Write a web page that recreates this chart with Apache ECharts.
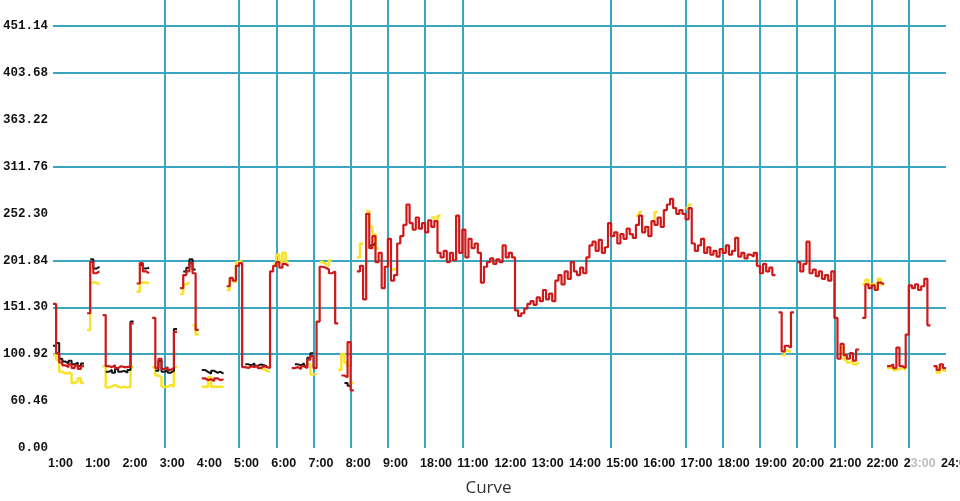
<!DOCTYPE html>
<html>
<head>
<meta charset="utf-8">
<script src="https://cdn.jsdelivr.net/npm/echarts@6/dist/echarts.min.js"></script>
<style>
html,body{margin:0;padding:0;background:#fff;}
#chart{width:960px;height:501px;}
</style>
</head>
<body>
<div id="chart"></div>
<script>
// x tick labels (one per hour, as printed on the reference)
const xTickLabels = ['1:00','1:00','2:00','3:00','4:00','5:00','6:00','7:00','8:00','9:00','18:00','11:00','12:00',
  '13:00','14:00','15:00','16:00','17:00','18:00','19:00','20:00','21:00','22:00','23:00','24:00'];
// hours that carry a vertical grid line
const gridHours = [3,5,6,7,8,9,10,11,15,17,18,19,20,21,22,23];
// y tick labels (as printed) and which ticks carry a horizontal grid line
const yTickLabels = ['0.00','60.46','100.92','151.30','201.84','252.30','311.76','363.22','403.68','451.14',''];
const yGridShown = [false,false,true,true,true,false,true,false,true,true,false];
const yStep = 50.46;
const yMax = 482;

// 5-minute samples, 289 per series (12 per hour)
const redValues = [
  null,155,102,92,89,87,90,86,89,85,88,null,
  145,200,188,190,null,143,88,87,89,86,88,87,
  87,88,134,null,177,199,190,188,null,140,86,96,
  85,87,84,86,125,null,172,186,190,199,188,127,
  null,75,73,74,72,75,73,74,null,174,183,180,
  196,199,87,86,88,87,89,86,88,87,86,190,
  196,200,194,198,196,null,86,87,85,88,86,95,
  99,86,136,195,194,192,188,190,134,null,78,76,
  114,62,null,190,196,160,252,215,228,200,210,172,
  195,225,180,186,220,228,240,262,242,235,248,236,
  242,232,245,238,244,210,205,212,200,210,202,250,
  210,235,205,225,215,220,210,178,195,200,204,198,
  203,200,218,205,210,205,148,142,145,150,155,158,
  154,162,158,170,160,166,158,180,186,176,190,182,
  200,190,186,194,188,205,218,222,212,224,210,216,
  242,228,232,220,230,225,236,230,226,240,250,232,
  238,228,244,240,248,238,256,262,268,258,252,256,
  252,246,258,220,212,218,225,210,216,208,212,206,
  214,210,218,208,212,226,206,210,204,208,206,210,
  196,188,198,190,194,186,null,146,104,110,108,146,
  null,200,190,198,222,188,192,185,190,182,186,180,
  190,140,96,112,100,96,102,94,106,null,140,176,
  172,175,170,178,176,null,88,90,86,108,88,86,
  122,175,172,176,170,174,182,132,null,88,84,90,86
];
const blackValues = [
  null,110,113,96,93,91,94,90,92,88,91,null,
  null,203,193,195,null,null,82,84,81,85,82,83,
  81,84,136,null,null,197,193,194,null,null,83,94,
  82,84,81,83,128,null,null,190,194,203,192,null,
  null,84,82,80,83,81,82,80,null,null,null,null,
  null,null,null,90,89,91,88,90,89,88,null,null,
  null,null,null,null,null,null,null,90,89,91,88,97,
  102,null,null,null,null,null,null,null,null,null,null,70,
  67,null,null,null,null,null,null,218,220,null,null,null,
  null,null,null,null,null,null,null,null,null,null,null,null,
  null,null,null,null,null,null,null,null,null,null,null,null,
  null,null,null,null,null,null,null,null,null,null,null,null,
  null,null,null,null,null,null,null,null,null,null,null,null,
  null,null,null,null,null,null,null,null,null,null,null,null,
  null,null,null,null,null,null,null,null,null,null,null,null,
  null,null,null,null,null,null,null,null,null,null,null,null,
  null,null,null,null,null,null,null,null,null,null,null,null,
  null,null,null,null,null,null,null,null,null,null,null,null,
  null,null,null,null,null,null,null,null,null,null,null,null,
  null,null,null,null,null,null,null,null,null,null,null,null,
  null,null,null,null,null,null,null,null,null,null,null,null,
  null,null,null,null,null,null,null,null,null,null,null,null,
  null,null,null,null,null,null,null,null,null,null,null,null,
  null,null,null,null,null,null,null,null,null,null,null,null,null
];
const yellowValues = [
  null,100,95,82,80,81,80,70,72,75,70,null,
  127,178,178,176,null,88,65,66,68,66,65,66,
  65,66,87,null,168,178,178,177,null,87,78,76,
  66,66,68,66,87,null,166,176,178,null,132,122,
  null,66,66,76,66,66,66,66,null,170,180,178,
  200,202,null,null,null,null,null,null,85,83,82,null,
  198,208,200,210,200,null,null,null,null,null,null,90,
  79,80,null,200,198,196,202,null,null,84,101,92,
  88,70,null,205,220,null,255,238,230,215,null,null,
  null,null,192,194,null,null,null,null,null,null,null,null,
  null,null,null,248,244,250,null,null,null,null,null,null,
  null,null,null,null,null,null,null,null,null,null,null,null,
  null,null,null,null,null,null,null,null,null,null,null,null,
  null,null,null,null,null,null,null,null,null,null,null,null,
  null,null,null,null,null,null,null,null,null,null,null,null,
  null,null,null,null,null,null,null,null,null,250,254,null,
  null,null,244,254,null,null,null,null,null,null,null,null,
  null,258,262,null,null,null,null,null,null,null,null,null,
  null,null,null,null,null,null,null,null,null,null,null,null,
  null,null,null,null,null,null,null,null,100,105,103,null,
  null,null,null,null,null,null,null,null,null,null,null,null,
  null,null,null,108,95,92,94,90,92,null,176,181,
  176,177,172,182,176,null,86,87,84,85,86,84,
  null,null,null,null,null,null,null,null,null,88,81,87,83
];

// category axis: one category per 5 minutes
const categories = [];
for (let i = 0; i < redValues.length; i++) {
  const m = i * 5;
  categories.push(Math.floor(m / 60) + ':' + String(m % 60).padStart(2, '0'));
}

const gridColor = '#3aa7c0';
const xFont = "'Liberation Sans', Arial, sans-serif";
const chart = echarts.init(document.getElementById('chart'), null, {renderer: 'canvas'});
chart.setOption({
  backgroundColor: '#ffffff',
  animation: false,
  grid: {left: 53, right: 14, top: 0, bottom: 53, containLabel: false, outerBoundsMode: 'none'},
  xAxis: {
    type: 'category',
    data: categories,
    boundaryGap: false,
    name: 'Curve',
    nameLocation: 'middle',
    nameGap: 32,
    nameTextStyle: {fontFamily: 'Open Sans', fontSize: 17, color: '#333', padding: [0, 22, 0, 0]},
    axisLine: {show: false},
    axisTick: {show: false},
    axisLabel: {
      interval: function (idx) { return idx % 12 === 0; },
      formatter: function (v, idx) {
        const k = Math.round(idx / 12);
        const t = xTickLabels[k] || '';
        if (t === '23:00') return '2{g|3:00}';
        return t;
      },
      align: 'left',
      padding: [0, 0, 0, -5],
      margin: 9,
      fontFamily: xFont,
      fontWeight: 'bold',
      fontSize: 12.5,
      color: '#111',
      rich: {
        g: {color: '#bdbdbd', fontFamily: xFont, fontWeight: 'bold', fontSize: 12.5}
      }
    },
    splitLine: {
      show: true,
      interval: function (idx) { return idx % 12 === 0 && gridHours.indexOf(idx / 12) >= 0; },
      lineStyle: {color: gridColor, width: 2}
    }
  },
  yAxis: {
    type: 'value',
    min: 0,
    max: yMax,
    interval: yStep,
    axisLine: {show: false},
    axisTick: {show: false},
    axisLabel: {
      formatter: function (v) {
        const k = Math.round(v / yStep);
        if (Math.abs(v - k * yStep) > 1) return '';
        return yTickLabels[k] || '';
      },
      margin: 5,
      fontFamily: "'Liberation Mono', 'DejaVu Sans Mono', monospace",
      fontWeight: 'bold',
      fontSize: 12.5,
      color: '#111'
    },
    splitLine: {
      show: true,
      lineStyle: {color: yGridShown.map(s => s ? gridColor : 'rgba(0,0,0,0)'), width: 2}
    }
  },
  series: [
    {name: 'yellow', type: 'line', step: 'start', data: yellowValues, showSymbol: false, symbol: 'none',
     connectNulls: false, lineStyle: {color: '#f7e32a', width: 2.5}, itemStyle: {color: '#f7e32a'}, z: 2},
    {name: 'black', type: 'line', step: 'start', data: blackValues, showSymbol: false, symbol: 'none',
     connectNulls: false, lineStyle: {color: '#151515', width: 2}, itemStyle: {color: '#151515'}, z: 3},
    {name: 'red', type: 'line', step: 'start', data: redValues, showSymbol: false, symbol: 'none',
     connectNulls: false, lineStyle: {color: '#cc1a1a', width: 2.2}, itemStyle: {color: '#cc1a1a'}, z: 4}
  ]
});
</script>
</body>
</html>
